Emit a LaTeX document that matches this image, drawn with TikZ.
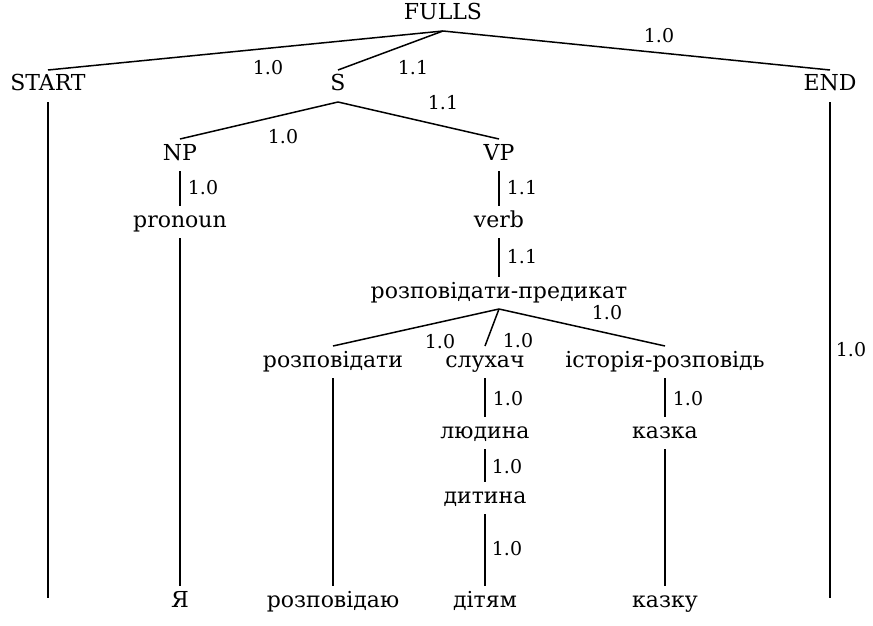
\documentclass[tikz,border=0pt]{standalone}
\usepackage{fontspec}
\setmainfont{DejaVu Serif}
\begin{document}
\begin{tikzpicture}[x=1pt,y=-1pt,
  nd/.style={inner sep=2pt, outer ysep=4pt, text height=15pt, text depth=5pt, font=\fontsize{22}{24}\selectfont},
  wt/.style={inner sep=1pt, font=\fontsize{19}{21}\selectfont},
  ln/.style={line width=1.5pt}]
\useasboundingbox[fill=white] (0,0) rectangle (873,626);
% nodes
\node[nd] (fulls) at (443,15) {FULLS};
\node[nd] (start) at (48,86) {START};
\node[nd] (s) at (338,86) {S};
\node[nd] (end) at (830,86) {END};
\node[nd] (np) at (180,155) {NP};
\node[nd] (vp) at (499,155) {VP};
\node[nd] (pron) at (180,222) {pronoun};
\node[nd] (verb) at (499,222) {verb};
\node[nd] (pred) at (499,293) {розповідати-предикат};
\node[nd] (rozp) at (333,362) {розповідати};
\node[nd] (sluh) at (485,362) {слухач};
\node[nd] (ist) at (665,362) {історія-розповідь};
\node[nd] (lud) at (485,433) {людина};
\node[nd] (kazka) at (665,433) {казка};
\node[nd] (dyt) at (485,498) {дитина};
\node[nd] (ya) at (180,602) {Я};
\node[nd] (rozpw) at (333,602) {розповідаю};
\node[nd] (ditiam) at (485,602) {дітям};
\node[nd] (kazku) at (665,602) {казку};
\coordinate (startend) at (48,598);
\coordinate (endend) at (830,598);
% connectors
\draw[ln] (fulls.south) -- (start.north);
\draw[ln] (fulls.south) -- (s.north);
\draw[ln] (fulls.south) -- (end.north);
\draw[ln] (s.south) -- (np.north);
\draw[ln] (s.south) -- (vp.north);
\draw[ln] (np.south) -- (pron.north);
\draw[ln] (vp.south) -- (verb.north);
\draw[ln] (verb.south) -- (pred.north);
\draw[ln] (pred.south) -- (rozp.north);
\draw[ln] (pred.south) -- (sluh.north);
\draw[ln] (pred.south) -- (ist.north);
\draw[ln] (sluh.south) -- (lud.north);
\draw[ln] (ist.south) -- (kazka.north);
\draw[ln] (lud.south) -- (dyt.north);
\draw[ln] (dyt.south) -- (ditiam.north);
\draw[ln] (pron.south) -- (ya.north);
\draw[ln] (rozp.south) -- (rozpw.north);
\draw[ln] (kazka.south) -- (kazku.north);
\draw[ln] (start.south) -- (startend);
\draw[ln] (end.south) -- (endend);
% weights
\node[wt] (w1) at (268,68) {1.0};
\node[wt] (w2) at (413,68) {1.1};
\node[wt] (w3) at (659,36) {1.0};
\node[wt] (w4) at (283,137) {1.0};
\node[wt] (w5) at (443,103) {1.1};
\node[wt] (w6) at (203,188) {1.0};
\node[wt] (w7) at (522,188) {1.1};
\node[wt] (w8) at (522,257) {1.1};
\node[wt] (w9) at (440,342) {1.0};
\node[wt] (w10) at (518,341) {1.0};
\node[wt] (w11) at (607,313) {1.0};
\node[wt] (w12) at (508,399) {1.0};
\node[wt] (w13) at (688,399) {1.0};
\node[wt] (w14) at (507,467) {1.0};
\node[wt] (w15) at (507,549) {1.0};
\node[wt] (w16) at (851,350) {1.0};
\end{tikzpicture}
\end{document}
